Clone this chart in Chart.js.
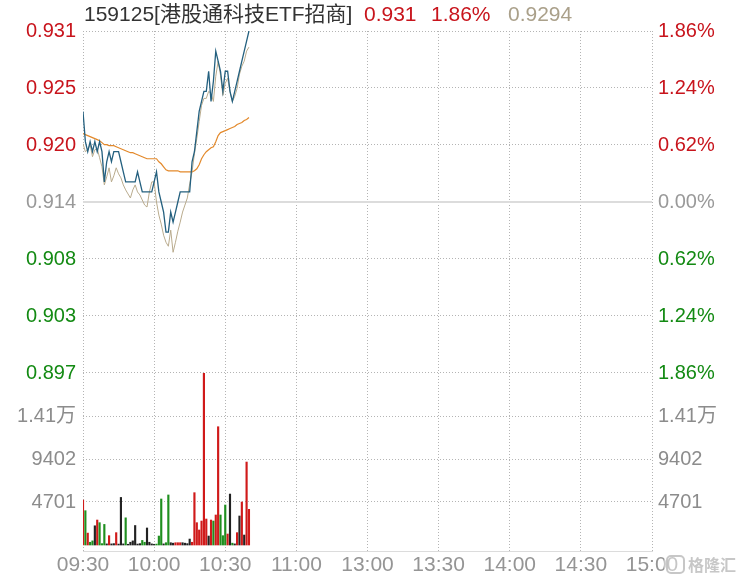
<!DOCTYPE html>
<html lang="zh-CN">
<head>
<meta charset="UTF-8">
<title>159125 港股通科技ETF招商 分时</title>
<script src="https://cdn.jsdelivr.net/npm/chart.js@4.4.1/dist/chart.umd.min.js"></script>
<style>
  html, body { margin: 0; padding: 0; background: #fff; }
  #wrap {
    position: relative;
    width: 736px;
    height: 577px;
    font-family: "Liberation Sans", Arial, "Noto Sans CJK SC", sans-serif;
  }
  #chart { position: absolute; left: 0; top: 0; }
  .hd { position: absolute; top: 2px; font-size: 21px; line-height: 24px; white-space: nowrap; }
</style>
</head>
<body>
<div id="wrap">
  <canvas id="chart" width="736" height="577"></canvas>
  <span class="hd" style="left:84px;color:#333">159125[港股通科技ETF招商]</span>
  <span class="hd" style="left:364px;color:#c8141c">0.931</span>
  <span class="hd" style="left:431px;color:#c8141c">1.86%</span>
  <span class="hd" style="left:508px;color:#aaa08a">0.9294</span>
</div>
<script>
// ---- data (one point per minute from 09:30) ----
var PREV_CLOSE = 0.914;
var MAX_PCT = 0.0186;

var TIME_TICKS = [0, 30, 60, 90, 120, 150, 180, 210, 240];
var TIME_LABELS = ['09:30', '10:00', '10:30', '11:00', '13:00', '13:30', '14:00', '14:30', '15:00'];

var PRICE_LABELS = ['0.931', '0.925', '0.920', '0.914', '0.908', '0.903', '0.897'];
var PCT_LABELS = ['1.86%', '1.24%', '0.62%', '0.00%', '0.62%', '1.24%', '1.86%'];
var VOL_TICKS = [14103, 9402, 4701];
var VOL_LABELS = ['1.41万', '9402', '4701'];

var PRICE = [
  0.923, 0.920, 0.919, 0.920, 0.919, 0.920, 0.919, 0.920, 0.919, 0.916,
  0.918, 0.919, 0.918, 0.919, 0.919, 0.919, 0.918, 0.917, 0.916, 0.916,
  0.916, 0.916, 0.916, 0.917, 0.916, 0.915, 0.915, 0.915, 0.915, 0.915,
  0.916, 0.917, 0.915, 0.914, 0.913, 0.911, 0.911, 0.913, 0.912, 0.913,
  0.914, 0.915, 0.915, 0.915, 0.915, 0.915, 0.918, 0.919, 0.921, 0.923,
  0.924, 0.925, 0.925, 0.927, 0.924, 0.926, 0.929, 0.928, 0.927, 0.925,
  0.927, 0.927, 0.925, 0.924, 0.925, 0.926, 0.927, 0.928, 0.929, 0.930,
  0.931
];

var AVG_PRICE = [
  0.9208, 0.9207, 0.9206, 0.9205, 0.9204, 0.9203, 0.9202, 0.9201, 0.9199, 0.9197,
  0.9197, 0.9196, 0.9196, 0.9196, 0.9195, 0.9194, 0.9193, 0.9192, 0.9191, 0.9190,
  0.9189, 0.9189, 0.9188, 0.9187, 0.9186, 0.9185, 0.9184, 0.9183, 0.9183, 0.9183,
  0.9183, 0.9183, 0.9180, 0.9178, 0.9175, 0.9172, 0.9171, 0.9171, 0.9171, 0.9171,
  0.9171, 0.9170, 0.9170, 0.9170, 0.9170, 0.9170, 0.9170, 0.9171, 0.9173, 0.9177,
  0.9183, 0.9187, 0.9190, 0.9192, 0.9194, 0.9195, 0.9200, 0.9206, 0.9209, 0.9210,
  0.9211, 0.9212, 0.9213, 0.9214, 0.9215, 0.9217, 0.9218, 0.9219, 0.9221, 0.9222,
  0.9224
];

var IOPV = [
  0.9198, 0.9190, 0.9192, 0.9197, 0.9185, 0.9192, 0.9193, 0.9184, 0.9175, 0.9157,
  0.9165, 0.9174, 0.9160, 0.9166, 0.9174, 0.9168, 0.9164, 0.9157, 0.9152, 0.9148,
  0.9144, 0.9152, 0.9157, 0.9150, 0.9147, 0.9142, 0.9137, 0.9135, 0.9150, 0.9160,
  0.9160, 0.9140, 0.9127, 0.9118, 0.9107, 0.9100, 0.9096, 0.9112, 0.9090, 0.9100,
  0.9111, 0.9120, 0.9130, 0.9137, 0.9144, 0.9158, 0.9170, 0.9188, 0.9203, 0.9220,
  0.9236, 0.9243, 0.9243, 0.9250, 0.9248, 0.9240, 0.9265, 0.9280, 0.9266, 0.9246,
  0.9258, 0.9263, 0.9250, 0.9240, 0.9245, 0.9253, 0.9267, 0.9275, 0.9280, 0.9290,
  0.9294
];

var VOLUME = [
  4920, 3750, 1300, 300, 450, 2100, 2730, 2440, 150, 2250,
  120, 1020, 120, 150, 1350, 100, 5200, 120, 2970, 80,
  300, 450, 2130, 100, 150, 500, 300, 1860, 300, 120,
  80, 100, 980, 5030, 120, 250, 5470, 250, 200, 250,
  250, 250, 250, 200, 150, 650, 300, 5720, 2440, 1640,
  2620, 18770, 2840, 980, 2730, 2620, 3280, 12930, 3280, 1020,
  4370, 1200, 5570, 200, 120, 1350, 3170, 4700, 1090, 9070,
  3900
];
// 1 = up (red), -1 = down (green), 0 = flat (black)
var VOL_DIR = [
  1, -1, 1, -1, -1, 0, 1, -1, -1, -1,
  0, 1, 0, 0, 1, 0, 0, 0, -1, 0,
  0, 0, 0, 0, 0, -1, -1, 0, 0, 0,
  0, -1, -1, -1, 0, -1, -1, 0, 0, 1,
  1, 1, 0, 0, 0, 0, 1, 1, 1, 1,
  1, 1, 1, 0, 1, -1, 1, 1, -1, -1,
  -1, 1, 0, -1, 0, 1, 0, 1, 0, 1,
  1
];

// ---- layout of the two panes (pixels) ----
var PRICE_ZONE = 342, VOL_ZONE = 172, VOL_PAD = 6;

var RED = '#c8141c', GREEN = '#138a13', GREY = '#999', VOLGREY = '#8c8c8c';
var GRID = '#b4b4b4';

var Y_MAX = PREV_CLOSE * (1 + MAX_PCT);
var Y_LOW = PREV_CLOSE * (1 - MAX_PCT);
var Y_MIN = Y_LOW - (Y_MAX - Y_LOW) * (VOL_ZONE + VOL_PAD) / PRICE_ZONE;
var V_TOP = VOL_TICKS[VOL_TICKS.length - 1] * 4;
var V_MIN = -V_TOP * VOL_PAD / VOL_ZONE;
var V_MAX = V_TOP + V_TOP * PRICE_ZONE / VOL_ZONE;

function volToPrice(v) {
  return Y_MIN + (v - V_MIN) / (V_MAX - V_MIN) * (Y_MAX - Y_MIN);
}

function axisTicks(priceLabels) {
  var ticks = [];
  for (var k = 0; k < priceLabels.length; k++) {
    var step = 3 - k;
    var color = step > 0 ? RED : (step < 0 ? GREEN : GREY);
    ticks.push({ value: PREV_CLOSE * (1 + step * MAX_PCT / 3), text: priceLabels[k], color: color });
  }
  for (var j = 0; j < VOL_TICKS.length; j++) {
    ticks.push({ value: volToPrice(VOL_TICKS[j]), text: VOL_LABELS[j], color: VOLGREY });
  }
  ticks.sort(function(a, b) { return a.value - b.value; });
  return ticks;
}

function series(arr) {
  return arr.map(function(v, i) { return { x: i, y: v }; });
}

var dirColor = { '1': '#d01a1a', '-1': '#1f8f1f', '0': '#222' };

// solid line at previous close + watermark
var extras = {
  id: 'extras',
  beforeDatasetsDraw: function(chart) {
    var ctx = chart.ctx, area = chart.chartArea;
    var y = Math.round(chart.scales.y.getPixelForValue(PREV_CLOSE));
    ctx.save();
    ctx.strokeStyle = '#dcdcdc';
    ctx.lineWidth = 2;
    ctx.beginPath();
    ctx.moveTo(area.left, y);
    ctx.lineTo(area.right, y);
    ctx.stroke();
    ctx.restore();
  },
  afterDraw: function(chart) {
    var ctx = chart.ctx;
    ctx.save();
    ctx.globalAlpha = 0.85;
    ctx.fillStyle = 'rgba(255,255,255,0.55)';
    ctx.fillRect(664, 554, 72, 22);
    ctx.strokeStyle = '#bdbdbd';
    ctx.lineWidth = 2;
    ctx.beginPath();
    ctx.roundRect(667, 556, 17, 17, 4);
    ctx.stroke();
    ctx.fillStyle = '#bdbdbd';
    ctx.font = 'bold 16px "Noto Sans CJK SC", sans-serif';
    ctx.textBaseline = 'middle';
    ctx.fillText('格隆汇', 688, 565);
    ctx.restore();
  }
};

new Chart(document.getElementById('chart'), {
  type: 'line',
  data: {
    datasets: [
      {
        label: '价格',
        data: series(PRICE),
        yAxisID: 'y',
        borderColor: '#24607f',
        borderWidth: 1.3,
        pointRadius: 0,
        order: 0
      },
      {
        label: 'IOPV',
        data: series(IOPV),
        yAxisID: 'y',
        borderColor: '#b9ab8d',
        borderWidth: 1,
        pointRadius: 0,
        order: 1
      },
      {
        label: '均价',
        data: series(AVG_PRICE),
        yAxisID: 'y',
        borderColor: '#e3892b',
        borderWidth: 1.2,
        pointRadius: 0,
        order: 2
      },
      {
        type: 'bar',
        label: '成交量',
        data: series(VOLUME),
        yAxisID: 'yv',
        backgroundColor: VOL_DIR.map(function(d) { return dirColor[d]; }),
        barThickness: 1.5,
        order: 3
      }
    ]
  },
  options: {
    responsive: false,
    animation: false,
    layout: { padding: { top: 31, left: 0, right: 0, bottom: 0 } },
    plugins: {
      legend: { display: false },
      tooltip: { enabled: false }
    },
    scales: {
      x: {
        type: 'linear',
        min: 0,
        max: 240,
        offset: false,
        afterBuildTicks: function(s) {
          s.ticks = TIME_TICKS.map(function(v) { return { value: v }; });
        },
        afterFit: function(s) { s.height = 26; },
        ticks: {
          callback: function(v, i) { return TIME_LABELS[i]; },
          color: '#959595',
          font: { size: 21, family: '"Liberation Sans", Arial, sans-serif' },
          maxRotation: 0,
          autoSkip: false,
          padding: 2
        },
        grid: { color: GRID, drawTicks: false, offset: false },
        border: { display: true, color: '#dcdcdc', dash: [1, 2] }
      },
      y: {
        position: 'left',
        min: Y_MIN,
        max: Y_MAX,
        afterBuildTicks: function(s) { s.ticks = axisTicks(PRICE_LABELS); },
        afterFit: function(s) { s.width = 83; },
        ticks: {
          callback: function(v, i, t) { return t[i].text; },
          color: function(c) { return c.tick ? c.tick.color : GREY; },
          font: { size: 20, family: '"Liberation Sans", Arial, "Noto Sans CJK SC", sans-serif' },
          autoSkip: false,
          padding: 7
        },
        grid: { color: GRID, drawTicks: false },
        border: { display: false, dash: [1, 2] }
      },
      yr: {
        position: 'right',
        min: Y_MIN,
        max: Y_MAX,
        afterBuildTicks: function(s) { s.ticks = axisTicks(PCT_LABELS); },
        afterFit: function(s) { s.width = 84; },
        ticks: {
          callback: function(v, i, t) { return t[i].text; },
          color: function(c) { return c.tick ? c.tick.color : GREY; },
          font: { size: 20, family: '"Liberation Sans", Arial, "Noto Sans CJK SC", sans-serif' },
          autoSkip: false,
          padding: 6
        },
        grid: { display: false, drawTicks: false },
        border: { display: false }
      },
      yv: {
        display: false,
        min: V_MIN,
        max: V_MAX
      }
    }
  },
  plugins: [extras]
});
</script>
</body>
</html>
